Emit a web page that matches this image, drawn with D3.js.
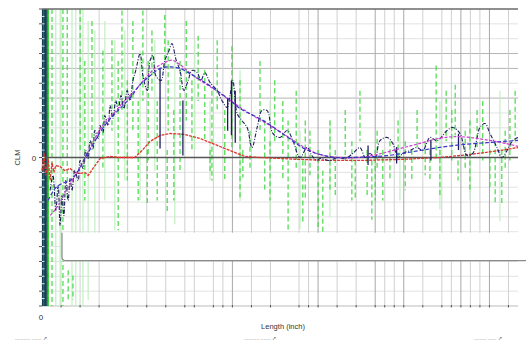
<!DOCTYPE html>
<html>
<head>
<meta charset="utf-8">
<script src="https://cdn.jsdelivr.net/npm/d3@7"></script>
<style>
  html, body { margin: 0; padding: 0; background: #fff; overflow: hidden; }
  text { font-family: "Liberation Sans", Arial, sans-serif; }
</style>
</head>
<body>
<svg id="chart" width="526" height="344"></svg>
<script>
// ---- Axis ranges and grid positions (Length in inch, CLM) ----
const xDomain = [0, 100];
const yDomain = [-10, 10];
const gridXMinor = [4, 8, 12, 18, 22, 26, 30, 32, 36, 38, 44, 48, 54, 56, 62, 66, 72, 74, 80, 84, 86, 90, 92, 98];
const gridXMajor = [40, 58, 70, 76, 88, 94];
const gridYMinor = [9, 8, 5, 3, 2, 1, -1, -2, -3, -4, -5, -6, -7, -8, -9];
const gridYMajor = [7, 6, 4];
const yTickLabels = [0];
const xTickLabels = [0];

// ---- Smoothed trend (blue) ----
const trendBlue = [
  [1.3, -2.9], [2.7, -2.1], [4.2, -1.75], [5.9, -1.55], [7.6, -0.9], [9.0, -0.05], [10.5, 0.75],
  [12.2, 1.7], [14.3, 2.6], [16.4, 3.3], [18.5, 4.0], [20.6, 4.9], [22.7, 5.5], [24.8, 6.0],
  [26.9, 6.1], [29.0, 6.0], [31.1, 5.65], [33.2, 5.25], [35.9, 4.7], [39.5, 3.85], [41.6, 3.3],
  [46.4, 2.5], [50.6, 1.6], [54.8, 0.65], [58.4, 0.2], [61.6, 0.0], [65.3, 0.0], [72.5, 0.13],
  [79.4, 0.47], [86.3, 0.8], [93.5, 1.0], [100, 1.15]
];

// ---- Fitted curve (magenta) ----
const fitMagenta = [
  [1.7, -3.9], [3.4, -3.25], [5.0, -2.25], [6.9, -1.25], [9.0, -0.05], [11.1, 1.3], [13.2, 2.35],
  [15.3, 3.05], [17.4, 3.85], [19.5, 4.5], [21.6, 5.3], [23.7, 6.0], [25.8, 6.4], [27.3, 6.55],
  [29.0, 6.25], [31.1, 5.7], [33.2, 5.2], [35.9, 4.65], [39.5, 3.85], [43.7, 2.95], [47.9, 2.15],
  [52.1, 1.3], [55.3, 0.65], [58.4, 0.2], [62.6, 0.0], [66.8, 0.0], [71.0, 0.25], [75.2, 0.6],
  [79.4, 0.95], [83.6, 1.3], [86.8, 1.4], [89.9, 1.35], [94.1, 1.15], [97.3, 0.95], [100, 0.75]
];

// ---- Residual / offset curve (red) ----
const offsetRed = [
  [0, -0.88], [0.4, 0.34], [0.8, -1.21], [1.3, -0.07], [1.7, -1.55], [2.1, -0.34], [2.5, -1.01],
  [2.9, -0.54], [3.8, -0.61], [4.8, -0.88], [5.9, -0.74], [6.9, -1.01], [8.0, -1.08], [9.0, -1.01],
  [9.7, -1.21], [10.7, -0.74], [12.2, -0.07], [14.3, 0.07], [16.4, 0], [19.5, 0], [21.0, 0.47],
  [22.7, 1.08], [24.8, 1.48], [26.9, 1.62], [30.0, 1.55], [33.2, 1.28], [37.4, 0.74], [40.5, 0.34],
  [42.6, 0.07], [45.8, 0], [54.2, -0.13], [60.5, -0.2], [66.8, -0.2], [75.2, -0.13], [83.6, 0],
  [89.9, 0.2], [96.2, 0.47], [100, 0.67]
];

// ---- Raw measured trace (navy) ----
const rawTrace = [
  [1.7, -2.22], [2.3, -1.21], [2.9, -3.57], [3.4, -1.89], [3.8, -4.58], [4.2, -2.56], [4.6, -3.91],
  [5.0, -1.55], [5.5, -2.9], [5.9, -1.41], [6.3, -2.22], [6.9, -0.88], [7.6, -1.55], [8.0, -0.2],
  [8.6, -0.74], [9.2, 0.47], [9.7, -0.07], [10.1, 1.14], [10.7, 0.61], [11.1, 1.82], [11.8, 1.28],
  [12.2, 2.15], [12.8, 1.68], [13.2, 2.83], [13.9, 2.15], [14.3, 3.5], [14.9, 2.63], [15.5, 3.84],
  [16.0, 3.16], [16.6, 4.18], [17.2, 3.3], [17.9, 4.51], [18.5, 3.84], [19.1, 5.19], [19.7, 5.86],
  [20.6, 7.0], [21.2, 5.52], [22.1, 4.51], [22.7, 6.53], [23.3, 6.87], [23.9, 5.52], [25.0, 5.19],
  [25.8, 6.53], [26.7, 7.21], [27.3, 7.68], [28.2, 6.53], [29.0, 5.86], [29.8, 4.51], [30.7, 5.19],
  [31.5, 5.86], [32.6, 5.72], [33.4, 5.19], [34.2, 5.72], [35.3, 5.05], [36.8, 4.51], [37.8, 3.84],
  [38.9, 3.37], [39.5, 4.18], [40.1, 5.19], [41.0, 2.96], [42.0, 2.49], [43.1, 2.02], [44.1, 0.67],
  [45.2, 2.02], [46.2, 3.16], [47.3, 3.16], [48.5, 1.62], [50.0, 1.35], [51.5, 1.82], [52.7, 1.14],
  [54.2, 0], [55.7, 0.67], [56.7, 0.13], [57.8, -0.2], [58.4, -0.07], [60.5, -0.2], [62.0, 0],
  [63.7, -0.07], [65.3, 0.27], [66.8, 0.67], [67.9, 0], [68.9, 0.27], [70.0, 0], [71.0, 1.14],
  [72.5, 1.35], [73.7, 0.94], [74.8, 0], [75.8, 0.27], [77.3, 0.47], [78.8, 0.67], [80.0, 0.47],
  [81.5, 1.35], [83.0, 1.14], [85.1, 1.82], [86.3, 2.02], [87.8, 1.62], [89.3, 0.13], [90.5, 0.27],
  [92.0, 2.02], [93.1, 2.29], [94.1, 1.62], [95.6, 0.67], [96.6, 0], [97.7, 0.47], [98.9, 1.14],
  [100, 1.35]
];

// sharp drops in the raw trace: [x, from, to]
const rawSpikes = [
  [24.8, 5.99, 0.61], [29.6, 3.84, 0.13], [39.0, 4.0, 1.8], [39.8, 5.19, 1.5], [40.6, 4.5, 1.0],
  [68.5, 0.8, -0.5], [74.5, 0.7, -0.4], [81.7, 1.2, -0.2], [87.5, 1.6, 0.5]
];

// dense readings right at the origin
const originBand = [0.15, 0.45, 0.75, 1.05];

// ---- Point-to-point deviation (green) as [x, low, high] ----
const deviationBright = [
  [0.8, -10, 10], [1.3, -10, 10], [2.1, -10, 10], [4.4, -10, 10], [5.3, -2.9, 10], [5.5, -9.6, -7.6],
  [6.5, -9.6, -7.95], [8.0, 0.5, 10], [9.0, -2.9, 6.5], [10.5, 0.5, 9.2], [12.8, -0.9, 7.2],
  [14.7, 1.8, 7.9], [16.0, -4.9, 6.5], [16.8, 3.2, 9.9], [17.9, -1.55, 5.2], [19.1, 1.8, 9.2],
  [20.2, -2.9, 3.8], [21.2, 3.8, 9.9], [22.1, -3.1, 0.5], [22.3, -0.2, 6.5], [23.1, 4.5, 8.55],
  [24.2, -2.9, 3.8], [25.8, 5.9, 9.6], [26.3, -3.8, 0.5], [26.5, 1.8, 7.9], [27.7, -2.9, 3.2],
  [29.0, -0.9, 6.5], [30.3, 2.5, 9.2], [31.5, 0.5, 5.2], [32.8, 3.8, 8.2], [34.2, 1.1, 5.9],
  [35.3, -1.1, 0.5], [35.7, -1.55, 4.5], [36.8, 3.2, 7.9], [38.4, -1.55, 3.2], [39.9, 0.5, 7.5],
  [41.6, -2.9, 5.2], [42.2, -1.35, 0.5], [43.7, -0.9, 1.8], [45.8, 1.8, 6.5], [46.8, -2.2, 2.5],
  [47.9, -2.9, 1.1], [48.9, 1.1, 5.2], [50.6, -1.55, 3.8], [51.7, -4.9, 2.5], [53.4, -0.9, 4.5],
  [54.8, -4.4, -0.2], [55.3, -2.9, 2.5], [56.3, -1.2, 1.8], [58.0, -4.9, 0.5], [59.0, -5.6, -0.9],
  [60.5, -2.2, 2.5], [61.6, -2.55, 0.5], [63.7, -0.2, 3.2], [65.1, -2.9, 1.1], [65.8, -2.9, -0.2],
  [66.8, 1.1, 4.5], [68.3, -2.55, 0.5], [69.3, -4.2, -0.2], [70.0, -2.9, 0.5], [70.4, -0.9, 1.8],
  [71.6, -2.9, 0.5], [73.1, -1.55, 1.1], [74.8, -0.2, 2.5], [76.3, -2.2, 1.1], [77.7, -1.55, 0.5],
  [78.8, 0.5, 3.2], [80.5, -1.2, 1.1], [81.5, -1.55, 0.5], [82.8, -0.2, 6.2], [83.6, -2.55, 0.5],
  [84.9, 1.1, 4.5], [86.1, -0.2, 3.2], [86.8, 1.5, 4.9], [87.4, -1.55, -0.2], [88.9, -0.9, 1.8],
  [89.9, -2.2, 2.5], [91.4, 0.5, 3.2], [92.6, -0.2, 3.8], [94.1, -2.2, 0.5], [95.2, -3.2, 1.1],
  [96.6, -3.2, 0.5], [97.3, -0.9, 1.8], [98.3, -0.2, 3.2], [99.4, 1.1, 4.5]
];
const deviationPale = [
  [2.9, -10, 10], [3.8, -10, 10], [6.3, -10, 10], [7.1, -10, 10], [8.6, -10, 10], [9.7, -9.6, 9.2],
  [11.1, -5.6, 8.55], [13.2, -2.9, 9.2], [15.3, -4.9, 7.9], [17.4, -1.55, 8.55], [20.6, -2.9, 7.2],
  [23.7, -0.9, 7.9], [27.9, -4.5, 6.5], [32.1, 0.5, 7.9], [35.3, -1.55, 3.8], [41.6, -2.9, 5.9],
  [47.9, -4.2, 3.8], [54.2, -4.8, 1.8], [60.5, -4.0, 2.5], [75.2, -2.9, 3.2], [83.6, -3.5, 3.8],
  [89.9, -2.9, 2.5], [96.2, -4.3, 4.5]
];

// ---- Drawing ----
const W = 526, H = 344;
const x = d3.scaleLinear().domain(xDomain).range([42, 518]);
const y = d3.scaleLinear().domain(yDomain).range([306, 9]);
const svg = d3.select("#chart");

// grid
const grid = svg.append("g");
grid.selectAll(".gym").data(gridYMinor).join("line")
  .attr("x1", x(0)).attr("x2", x(100)).attr("y1", d => y(d)).attr("y2", d => y(d))
  .attr("stroke", "#e2e2e2").attr("stroke-width", 1);
grid.selectAll(".gyM").data(gridYMajor).join("line")
  .attr("x1", x(0)).attr("x2", x(100)).attr("y1", d => y(d)).attr("y2", d => y(d))
  .attr("stroke", "#b4b4b4").attr("stroke-width", 1);
grid.selectAll(".gxm").data(gridXMinor).join("line")
  .attr("x1", d => x(d)).attr("x2", d => x(d)).attr("y1", y(10)).attr("y2", y(-10))
  .attr("stroke", "#d0d0d0").attr("stroke-width", 1);
grid.selectAll(".gxM").data(gridXMajor).join("line")
  .attr("x1", d => x(d)).attr("x2", d => x(d)).attr("y1", y(10)).attr("y2", y(-10))
  .attr("stroke", "#a8a8a8").attr("stroke-width", 1);

// bottom axis line and ticks
svg.append("line").attr("x1", x(0)).attr("x2", x(100)).attr("y1", y(-10)).attr("y2", y(-10))
  .attr("stroke", "#bbbbbb").attr("stroke-width", 1);
svg.append("g").selectAll("line").data(gridXMinor.concat(gridXMajor)).join("line")
  .attr("x1", d => x(d)).attr("x2", d => x(d)).attr("y1", y(-10) - 1).attr("y2", y(-10) + 1.5)
  .attr("stroke", "#555").attr("stroke-width", 1);

// deviation (green)
const dev = svg.append("g");
dev.selectAll(".pale").data(deviationPale).join("line")
  .attr("x1", d => x(d[0])).attr("x2", d => x(d[0]))
  .attr("y1", d => y(d[2])).attr("y2", d => y(d[1]))
  .attr("stroke", "#c2efc2").attr("stroke-width", 1.2);
dev.selectAll(".bright").data(deviationBright).join("line")
  .attr("x1", d => x(d[0])).attr("x2", d => x(d[0]))
  .attr("y1", d => y(d[2])).attr("y2", d => y(d[1]))
  .attr("stroke", "#3ed83e").attr("stroke-width", 1.15)
  .attr("stroke-dasharray", "5,3");

// readings at the origin
svg.append("g").selectAll("line").data(originBand).join("line")
  .attr("x1", d => x(d)).attr("x2", d => x(d)).attr("y1", y(10)).attr("y2", y(-10))
  .attr("stroke", "#123f52").attr("stroke-width", 1.6);
svg.append("line").attr("x1", x(1.3)).attr("x2", x(1.3)).attr("y1", y(10)).attr("y2", y(-10))
  .attr("stroke", "#2fcf2f").attr("stroke-width", 1.4);

// zero line
svg.append("line").attr("x1", x(0)).attr("x2", x(100)).attr("y1", y(0)).attr("y2", y(0))
  .attr("stroke", "#555").attr("stroke-width", 1.3);

const lineGen = d3.line().x(d => x(d[0])).y(d => y(d[1]));
const smoothGen = d3.line().x(d => x(d[0])).y(d => y(d[1])).curve(d3.curveCatmullRom.alpha(0.5));

// red offset
svg.append("path").datum(offsetRed).attr("d", lineGen)
  .attr("fill", "none").attr("stroke", "#e0342c").attr("stroke-width", 1.3)
  .attr("stroke-dasharray", "3,1");

// raw trace
svg.append("path").datum(rawTrace).attr("d", smoothGen)
  .attr("fill", "none").attr("stroke", "#1d1d5e").attr("stroke-width", 1.1)
  .attr("stroke-dasharray", "4,1.5,1,1.5");
svg.append("g").selectAll("line").data(rawSpikes).join("line")
  .attr("x1", d => x(d[0])).attr("x2", d => x(d[0]))
  .attr("y1", d => y(d[1])).attr("y2", d => y(d[2]))
  .attr("stroke", "#1d1d5e").attr("stroke-width", 1.3);

// magenta fit
svg.append("path").datum(fitMagenta).attr("d", smoothGen)
  .attr("fill", "none").attr("stroke", "#d23ed2").attr("stroke-width", 1.2)
  .attr("stroke-dasharray", "3,1.5");

// blue trend
svg.append("path").datum(trendBlue).attr("d", smoothGen)
  .attr("fill", "none").attr("stroke", "#3535c8").attr("stroke-width", 1.2)
  .attr("stroke-dasharray", "4,2");

// top border
svg.append("line").attr("x1", x(0)).attr("x2", x(100)).attr("y1", y(10)).attr("y2", y(10))
  .attr("stroke", "#6a6a6a").attr("stroke-width", 1.5);

// y-axis ticks
svg.append("g").selectAll("line").data(d3.range(-10, 11)).join("line")
  .attr("x1", x(0) - 3).attr("x2", x(0)).attr("y1", d => y(d)).attr("y2", d => y(d))
  .attr("stroke", "#555").attr("stroke-width", 1);
svg.append("g").selectAll("line").data(d3.range(-9.5, 10, 0.5)).join("line")
  .attr("x1", x(0)).attr("x2", x(0) + 2.5).attr("y1", d => y(d)).attr("y2", d => y(d))
  .attr("stroke", "#dfe8ea").attr("stroke-width", 1);

// legend panel
const boxTop = y(-5) + 1, boxBottom = y(-6.95), boxLeft = x(4.2), r = 4;
svg.append("rect").attr("x", boxLeft).attr("y", boxTop).attr("width", W - boxLeft)
  .attr("height", boxBottom - boxTop).attr("fill", "#fff");
svg.append("path")
  .attr("d", `M${boxLeft},${boxTop} V${boxBottom - r} Q${boxLeft},${boxBottom} ${boxLeft + r},${boxBottom} H${W}`)
  .attr("fill", "none").attr("stroke", "#8a8a8a").attr("stroke-width", 1.2);

// labels
svg.selectAll(".yl").data(yTickLabels).join("text")
  .attr("x", 34).attr("y", d => y(d) + 3).attr("text-anchor", "middle")
  .attr("font-size", 8).attr("fill", "#333").text(d => d);
svg.selectAll(".xl").data(xTickLabels).join("text")
  .attr("x", d => x(d) - 1).attr("y", 320).attr("text-anchor", "middle")
  .attr("font-size", 8).attr("fill", "#333").text(d => d);
svg.append("text").attr("transform", `translate(20,${y(0)}) rotate(-90)`)
  .attr("text-anchor", "middle").attr("font-size", 7.5).attr("fill", "#333").text("CLM");
svg.append("text").attr("x", 283).attr("y", 329).attr("text-anchor", "middle")
  .attr("font-size", 7.5).attr("fill", "#333").text("Length (inch)");

// small footer notes
const footers = [[15, "........... ....... ↗"], [244, "........... ....... ↗"], [474, "......... ...... ↗"]];
svg.selectAll(".ft").data(footers).join("text")
  .attr("x", d => d[0]).attr("y", 340).attr("font-size", 5).attr("fill", "#666")
  .text(d => d[1]);
</script>
</body>
</html>
